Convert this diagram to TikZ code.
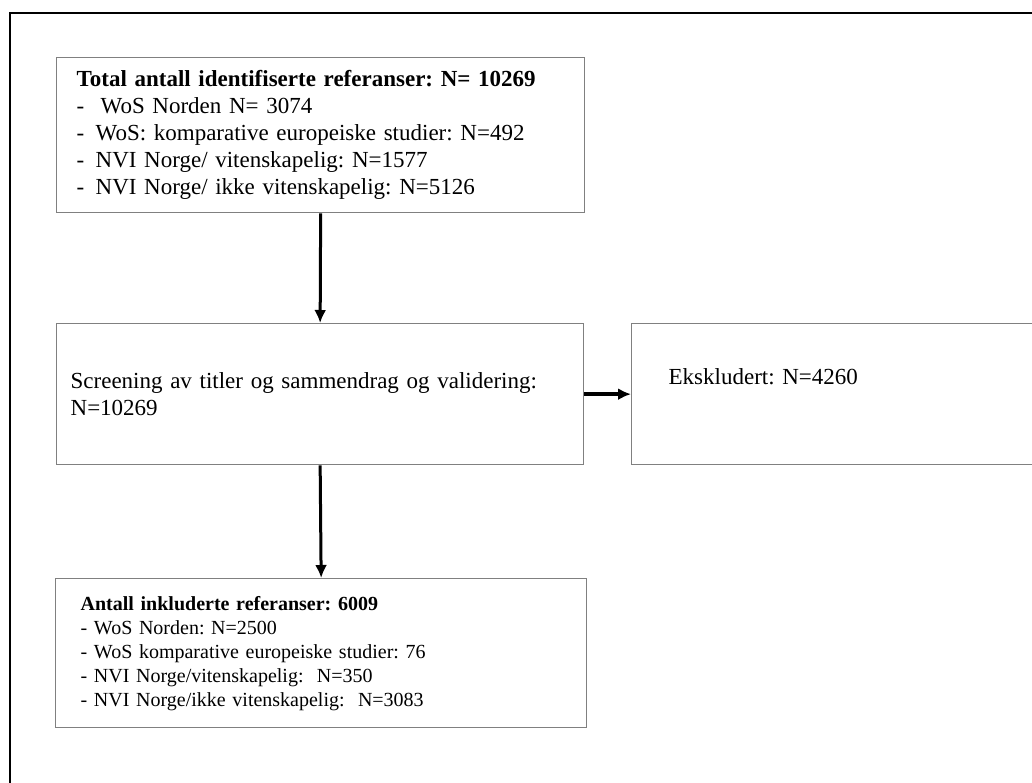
\documentclass[tikz,border=0pt]{standalone}
\usepackage{fontspec}
\setmainfont{Liberation Serif}
\usepackage{tikz}
\usetikzlibrary{positioning,arrows.meta}
\frenchspacing

\begin{document}
\begin{tikzpicture}[x=1pt,y=-1pt,inner sep=0pt,
  box/.style={draw=black!50,line width=1.3pt,rectangle,anchor=north west,align=left},
  bigtext/.style={font=\fontsize{23}{27}\selectfont},
  smalltext/.style={font=\fontsize{20}{24}\selectfont},
  flow/.style={line width=3pt,-{Latex[length=13pt,width=12pt]}}]
\clip (0,0) rectangle (1032,783);
\fill[white] (0,0) rectangle (1032,783);
\draw[line width=2pt] (10,13) rectangle (1060,810);

\node (total) at (56,57) [box,bigtext,minimum width=528pt,minimum height=155pt,inner xsep=20pt,text width=488pt]
 {\textbf{Total antall identifiserte referanser: N= 10269}\\
  \makebox[24pt][l]{-}WoS Norden N= 3074\\
  \makebox[19pt][l]{-}WoS: komparative europeiske studier: N=492\\
  \makebox[19pt][l]{-}NVI Norge/ vitenskapelig: N=1577\\
  \makebox[19pt][l]{-}NVI Norge/ ikke vitenskapelig: N=5126};
\node (screen) at (56,323) [box,bigtext,minimum width=527pt,minimum height=141pt,inner xsep=14pt,text width=499pt]
 {Screening av titler og sammendrag og validering:\\ N=10269};
\node (excl) at (631,323) [box,bigtext,minimum width=420pt,minimum height=141pt,inner xsep=37pt,text width=346pt]
 {Ekskludert: N=4260\\ \strut};
\node (incl) at (55,578) [box,smalltext,minimum width=531pt,minimum height=149pt,inner xsep=25pt,text width=481pt]
 {\textbf{Antall inkluderte referanser: 6009}\\
  - WoS Norden: N=2500\\
  - WoS komparative europeiske studier: 76\\
  - NVI Norge/vitenskapelig:\ \ N=350\\
  - NVI Norge/ikke vitenskapelig:\ \ N=3083};

\draw[flow] (total.south) -- (screen.north);
\draw[flow,line width=4.5pt] (screen.east) -- (excl.west);
\draw[flow] (screen.south) -- (incl.north);

\end{tikzpicture}
\end{document}
